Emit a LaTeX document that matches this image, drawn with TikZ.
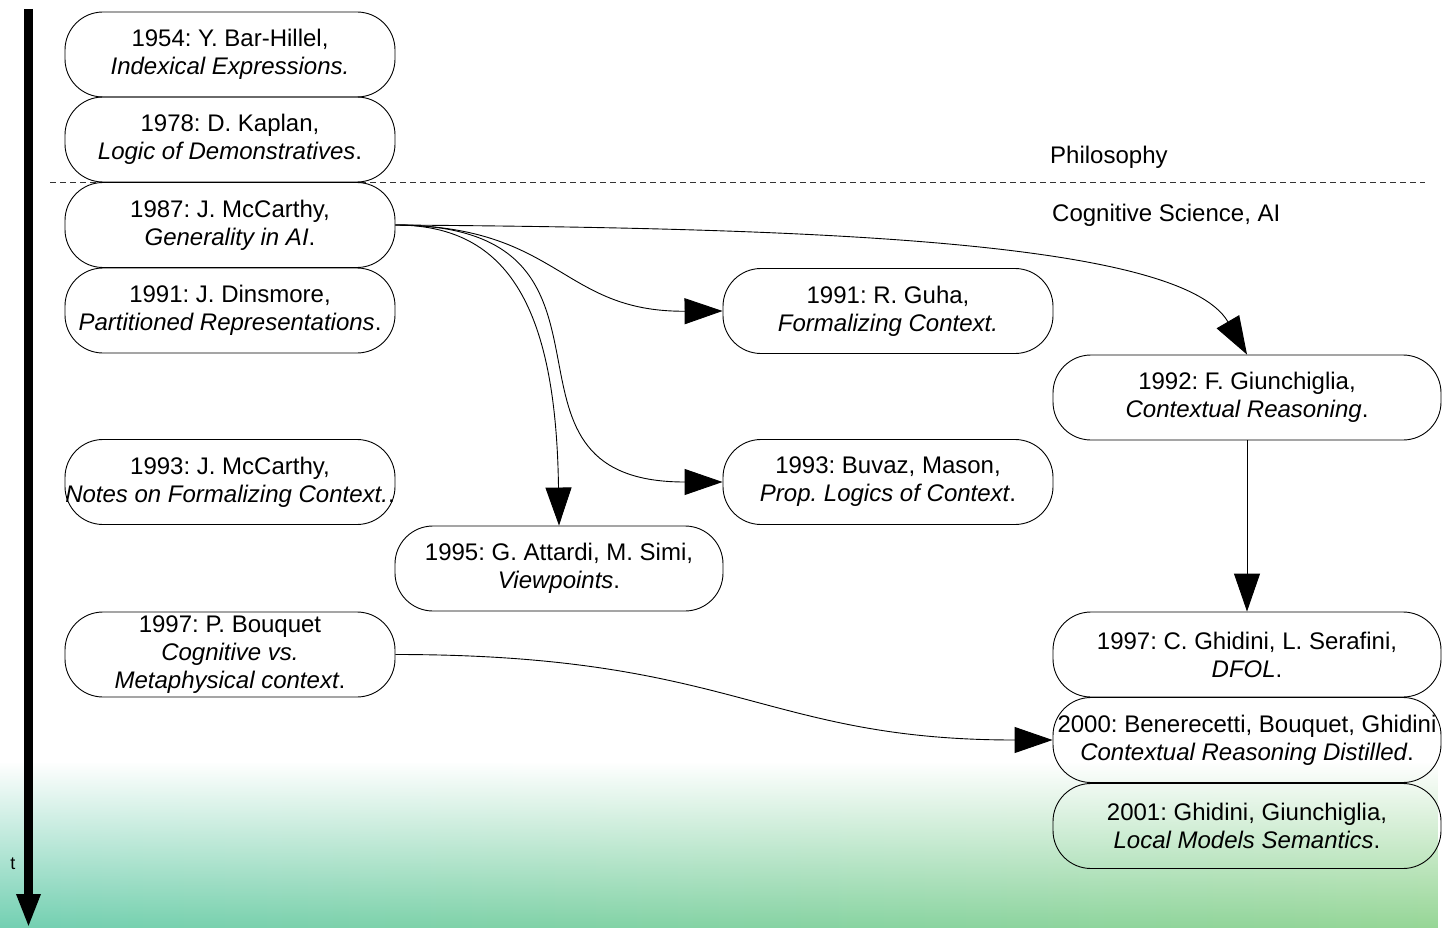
\documentclass[tikz,border=0pt]{standalone}
\usepackage{fontspec}
\setmainfont{Liberation Sans}
\usetikzlibrary{arrows.meta,fadings}
\frenchspacing
\newcommand{\mkl}[1]{\makebox[0pt]{#1}}
\tikzfading[name=fadeupward, top color=transparent!100, bottom color=transparent!0]
\definecolor{mintL}{RGB}{115,208,178}
\definecolor{mintM}{RGB}{112,202,196}
\definecolor{mintR}{RGB}{150,214,150}
\tikzset{
  bub/.style={draw=black, line width=0.9pt, rounded corners=38pt, minimum height=85pt,
    inner sep=0pt, align=center, font=\fontsize{24}{28}\selectfont},
  lw/.style={minimum width=330pt},
  rw/.style={minimum width=388pt},
  conn/.style={draw=black, line width=0.9pt, -{Triangle[length=38pt,width=26pt]}},
  lab/.style={anchor=west, inner sep=0pt, font=\fontsize{24}{28}\selectfont}
}
\begin{document}
\begin{tikzpicture}[x=1pt,y=-1pt]
\useasboundingbox (0,0) rectangle (1442,928);
\fill[white] (0,0) rectangle (1442,928);
\shade[left color=mintL, middle color=mintM, right color=mintR, path fading=fadeupward]
  (0,762) rectangle (1442,928);
% axis
\draw[line width=9pt, -{Triangle[length=34pt,width=22pt]}] (28.5,9) -- (28.5,928);
\node[inner sep=0pt, font=\fontsize{18}{20}\selectfont] (tlab) at (13,864) {t};
% separator
\draw[dashed, dash pattern=on 6pt off 4pt, line width=0.8pt, black!80] (50,182) -- (1425,182);
\node[lab] (philo) at (1050,157) {Philosophy};
\node[lab] (cogsci) at (1052,215) {Cognitive Science, AI};
% left column
\node[bub,lw] (n1954) at (230,54.5) {\mkl{1954: Y. Bar-Hillel,}\\\mkl{\textit{Indexical Expressions.}}};
\node[bub,lw] (n1978) at (230,139.5) {\mkl{1978: D. Kaplan,}\\\mkl{\textit{Logic of Demonstratives}.}};
\node[bub,lw] (n1987) at (230,225) {\mkl{1987: J. McCarthy,}\\\mkl{\textit{Generality in AI}.}};
\node[bub,lw] (n1991) at (230,310.5) {\mkl{1991: J. Dinsmore,}\\\mkl{\textit{Partitioned Representations}.}};
\node[bub,lw] (n1993) at (230,482) {\mkl{1993: J. McCarthy,}\\\mkl{\textit{Notes on Formalizing Context.}.}};
\node[bub,lw] (n1997) at (230,654.5) {\mkl{1997: P. Bouquet}\\\mkl{\textit{Cognitive vs.}}\\\mkl{\textit{Metaphysical context}.}};
% middle
\node[bub,lw] (guha) at (888,311) {\mkl{1991: R. Guha,}\\\mkl{\textit{Formalizing Context.}}};
\node[bub,lw] (buvaz) at (888,482) {\mkl{1993: Buvaz, Mason,}\\\mkl{\textit{Prop. Logics of Context}.}};
\node[bub,minimum width=328pt] (attardi) at (559,568.5) {\mkl{1995: G. Attardi, M. Simi,}\\\mkl{\textit{Viewpoints}.}};
% right
\node[bub,rw] (giun) at (1247,397.5) {\mkl{1992: F. Giunchiglia,}\\\mkl{\textit{Contextual Reasoning}.}};
\node[bub,rw] (ghid) at (1247,654.5) {\mkl{1997: C. Ghidini, L. Serafini,}\\\mkl{\textit{DFOL}.}};
\node[bub,rw] (n2000) at (1247,740) {\mkl{2000: Benerecetti, Bouquet, Ghidini}\\\mkl{\textit{Contextual Reasoning Distilled}.}};
\node[bub,rw] (n2001) at (1247,826) {\mkl{2001: Ghidini, Giunchiglia,}\\\mkl{\textit{Local Models Semantics}.}};
% connectors
\path[conn] (n1987.east) .. controls +(405,3) and +(-67,-115) .. (giun.north);
\path[conn] (n1987.east) .. controls +(165,1) and +(-162,1) .. (guha.west);
\path[conn] (n1987.east) .. controls +(262,0) and +(-255,0) .. (buvaz.west);
\path[conn] (n1987.east) .. controls +(108,0) and +(-3,-226) .. (attardi.north);
\path[conn] (giun.south) -- (ghid.north);
\path[conn] (n1997.east) .. controls +(340,0) and +(-290,0) .. (n2000.west);
\end{tikzpicture}
\end{document}
